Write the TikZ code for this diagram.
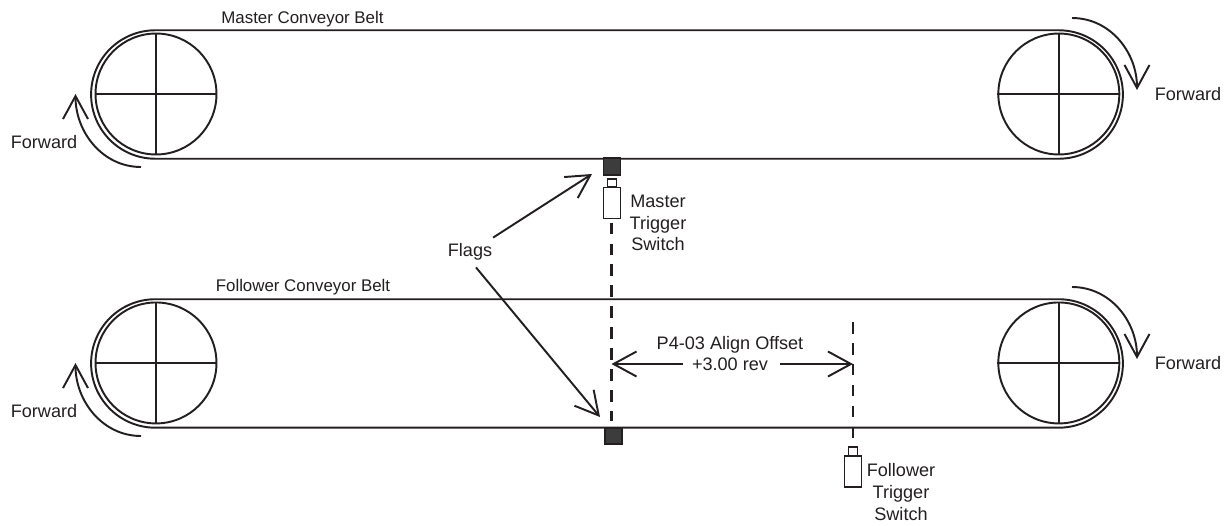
\documentclass[tikz,border=0pt]{standalone}
\usepackage{fontspec}
\setmainfont{Liberation Sans}
\usepackage{xcolor}
\usetikzlibrary{arrows.meta, positioning}
\definecolor{ink}{RGB}{35,31,32}
\definecolor{flagc}{RGB}{60,60,60}

\begin{document}
\begin{tikzpicture}[
  x=0.02cm, y=-0.02cm,
  line width=1.1pt, color=ink,
  belt/.style={rectangle, draw, rounded corners=1.285cm, minimum width=20.64cm,
    minimum height=2.57cm, inner sep=0pt},
  pulley/.style={circle, draw, minimum size=2.42cm, inner sep=0pt},
  flag/.style={rectangle, draw, fill=flagc, minimum width=0.34cm, minimum height=0.33cm, inner sep=0pt},
  stem/.style={rectangle, draw, fill=white, minimum width=0.18cm, minimum height=0.17cm, inner sep=0pt},
  body/.style={rectangle, draw, fill=white, minimum width=0.34cm, minimum height=0.62cm, inner sep=0pt},
  lbl/.style={align=center, font=\fontsize{10.3}{12.4}\selectfont, inner sep=0pt, text=ink},
  beltname/.style={lbl, font=\fontsize{9.6}{12.4}\selectfont},
  arr/.style={-{Straight Barb[length=0.46cm, width=0.5cm]}},
  guide/.style={line width=1.25pt, dash pattern=on 0.23cm off 0.19cm},
  on grid
]
\useasboundingbox (0,0) rectangle (1228,525);

% Master belt
\node[belt] (mbelt) at (607,94.5) {};
\node[pulley] (mL) at (156,94) {};
\node[pulley, right=18.06cm of mL] (mR) {};

% Follower belt
\node[belt, below=5.38cm of mbelt] (fbelt) {};
\node[pulley, below=5.38cm of mL] (fL) {};
\node[pulley, below=5.38cm of mR] (fR) {};

% Spokes
\foreach \p in {mL,mR,fL,fR} {
  \draw (\p.north) -- (\p.south);
  \draw (\p.west) -- (\p.east);
}

% Flags and switches
\node[flag] (mflag) at (612,166.5) {};
\node[stem, below=0.33cm of mflag] (mstem) {};
\node[body, below=0.40cm of mstem] (mbody) {};
\node[flag] (fflag) at (613.5,436) {};
\node[stem] (fstem) at (853,451.5) {};
\node[body, below=0.40cm of fstem] (fbody) {};

% Free ends
\coordinate (mdash) at (611.5,222.5);
\coordinate (mdashend) at (611.5,421);
\coordinate (fdash) at (853,322);
\coordinate (fdashend) at (853,438);
\coordinate (offL) at (611.5,364);
\coordinate (offR) at (853,364);
\coordinate (offLend) at (683,364);
\coordinate (offRend) at (780,364);
\coordinate (mfwdLs) at (141,167);
\coordinate (mfwdLe) at (75.5,94);
\coordinate (mfwdRs) at (1072,18);
\coordinate (mfwdRe) at (1137,90);
\coordinate (ffwdLs) at (141,436);
\coordinate (ffwdLe) at (75.5,363);
\coordinate (ffwdRs) at (1072,287);
\coordinate (ffwdRe) at (1137,359);
\coordinate (mflagtip) at (592,174);
\coordinate (fflagtip) at (600,417);

% Labels
\node[beltname] (mname) at (302.5,19) {Master Conveyor Belt};
\node[beltname] (fname) at (303,287) {Follower Conveyor Belt};
\node[lbl] (mfL) at (44,142) {Forward};
\node[lbl] (mfR) at (1188,94) {Forward};
\node[lbl] (ffL) at (44,411) {Forward};
\node[lbl] (ffR) at (1188,363) {Forward};
\node[lbl] (mtrig) at (658,223) {Master\\Trigger\\Switch};
\node[lbl] (ftrig) at (901,492) {Follower\\Trigger\\Switch};
\node[lbl] (flags) at (470,252) {Flags};
\node[lbl] (offset) at (730,353.5) {P4-03 Align Offset\\+3.00 rev};

% Forward arrows
\draw[arr] (mfwdLs) to[out=180, in=-90] (mfwdLe);
\draw[arr] (mfwdRs) to[out=0, in=90] (mfwdRe);
\draw[arr] (ffwdLs) to[out=180, in=-90] (ffwdLe);
\draw[arr] (ffwdRs) to[out=0, in=90] (ffwdRe);

% Flag pointers
\draw[arr] ([yshift=0.1cm]flags.north east) -- (mflagtip);
\draw[arr] ([xshift=0.12cm, yshift=-0.12cm]flags.south) -- (fflagtip);

% Offset
\draw[guide] (mdash) -- (mdashend);
\draw[guide] (fdash) -- (fdashend);
\draw[arr] (offLend) -- (offL);
\draw[arr] (offRend) -- (offR);
\end{tikzpicture}
\end{document}
